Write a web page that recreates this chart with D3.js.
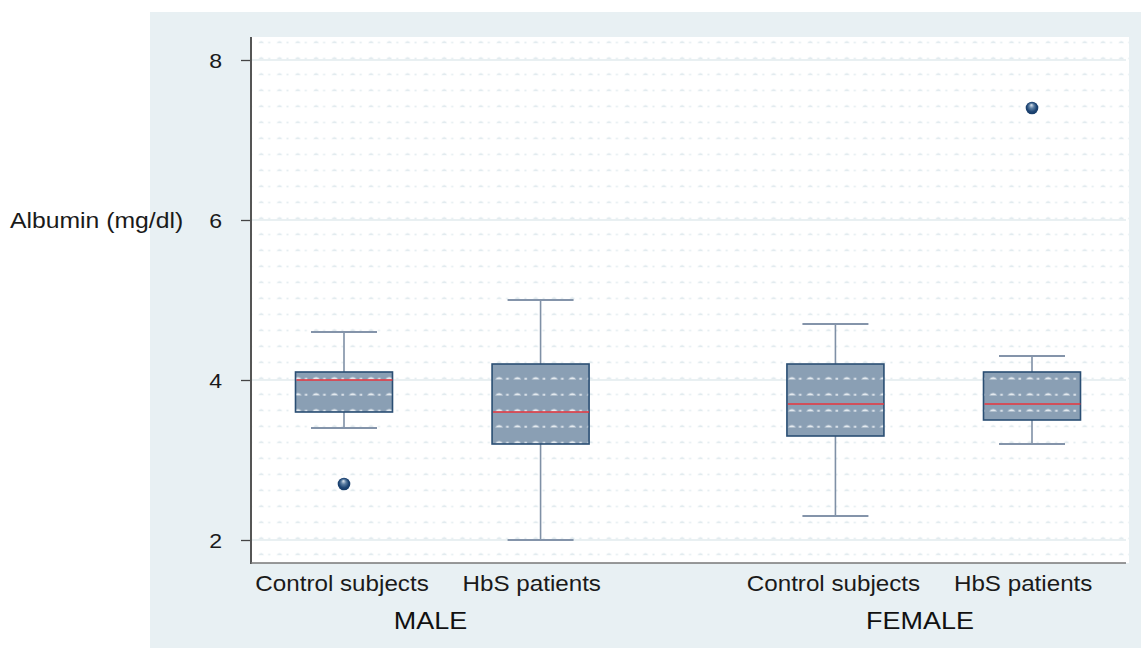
<!DOCTYPE html>
<html>
<head>
<meta charset="utf-8">
<script src="https://cdn.jsdelivr.net/npm/d3@7"></script>
<style>
  html, body { margin: 0; padding: 0; background: #ffffff; }
  svg { display: block; font-family: "Liberation Sans", Arial, sans-serif; }
</style>
</head>
<body>
<svg id="chart" width="1141" height="648"></svg>
<script>
// Albumin box plots by sex and group
const groups = ["MALE", "FEMALE"];
const categories = ["Control subjects", "HbS patients", "Control subjects", "HbS patients"];
const categoryGroup = ["MALE", "MALE", "FEMALE", "FEMALE"];
const slots = [0, 1, 2.5, 3.5];            // horizontal slot of each box
const labelSlots = [-0.01, 0.955, 2.49, 3.455];
const groupSlots = [0.44, 2.93];
const whiskerLow = [3.4, 2.0, 2.3, 3.2];
const q1 = [3.6, 3.2, 3.3, 3.5];
const median = [4.0, 3.6, 3.7, 3.7];
const q3 = [4.1, 4.2, 4.2, 4.1];
const whiskerHigh = [4.6, 5.0, 4.7, 4.3];
const outliers = [[2.7], [], [], [7.4]];
const yTicks = [2, 4, 6, 8];
const yLabel = "Albumin (mg/dl)";

const svg = d3.select("#chart");
const W = 1141, H = 648;
const SX = 1.1;   // horizontal stretch of the lettering

// panel and plot region
const panel = { x: 150, y: 12, w: W - 150, h: H - 12 };
const plot = { left: 251, right: 1129, top: 37, bottom: 563 };

const y = d3.scaleLinear().domain([2, 8]).range([540, 60]);
const x = d3.scaleLinear().domain([0, 3.5]).range([344, 1032]);
const boxW = 97, capW = 66;

const defs = svg.append("defs");
function texture(id, color, big) {
  const p = defs.append("pattern")
    .attr("id", id)
    .attr("patternUnits", "userSpaceOnUse")
    .attr("x", 0).attr("y", 40.7)
    .attr("width", 18.3).attr("height", 16);
  if (big) {
    p.append("path").attr("d", "M1,2.6 Q5,-1.4 9,2.6 Z").attr("fill", color);
    p.append("rect").attr("x", 12).attr("y", 1.3).attr("width", 2.6).attr("height", 1.5).attr("fill", color);
  } else {
    p.append("path").attr("d", "M2,2.2 Q5,-1.2 8,2.2 Z").attr("fill", color);
    p.append("rect").attr("x", 12).attr("y", 1.2).attr("width", 2).attr("height", 1.2).attr("fill", color);
  }
  return p;
}
texture("bgTex", "#d9e5ea", false);
texture("boxTex", "#f4f7fa", true);

const grad = defs.append("radialGradient").attr("id", "dotGrad")
  .attr("cx", "50%").attr("cy", "50%").attr("r", "55%")
  .attr("fx", "45%").attr("fy", "25%");
grad.append("stop").attr("offset", "0%").attr("stop-color", "#dfe8f0");
grad.append("stop").attr("offset", "35%").attr("stop-color", "#5d7fa3");
grad.append("stop").attr("offset", "70%").attr("stop-color", "#1d4473");
grad.append("stop").attr("offset", "100%").attr("stop-color", "#163a66");

svg.append("rect")
  .attr("x", panel.x).attr("y", panel.y)
  .attr("width", panel.w).attr("height", panel.h)
  .attr("fill", "#e8f0f3");

svg.append("rect")
  .attr("x", plot.left).attr("y", plot.top)
  .attr("width", plot.right - plot.left).attr("height", plot.bottom - plot.top)
  .attr("fill", "#ffffff");
svg.append("rect")
  .attr("x", plot.left).attr("y", plot.top)
  .attr("width", plot.right - plot.left).attr("height", plot.bottom - plot.top)
  .attr("fill", "url(#bgTex)");

// major grid lines
svg.append("g").selectAll("line").data(yTicks).join("line")
  .attr("x1", plot.left).attr("x2", plot.right - 3)
  .attr("y1", d => y(d)).attr("y2", d => y(d))
  .attr("stroke", "#e2ebee").attr("stroke-width", 1.3);

// y axis
const yAxis = d3.axisLeft(y).tickValues(yTicks).tickSize(10).tickPadding(18).tickFormat(d3.format("d"));
const gy = svg.append("g").attr("transform", `translate(${plot.left},0)`).call(yAxis);
gy.select(".domain").remove();
gy.selectAll(".tick line").attr("stroke", "#444").attr("stroke-width", 1.3);
gy.selectAll(".tick text").attr("font-size", 21).attr("fill", "#1a1a1a")
  .attr("font-family", "Liberation Sans, Arial, sans-serif")
  .attr("x", null).attr("dy", null)
  .attr("transform", `translate(-29,7.5) scale(${SX},1)`);
svg.append("line")
  .attr("x1", plot.left).attr("x2", plot.left)
  .attr("y1", plot.top).attr("y2", plot.bottom + 1)
  .attr("stroke", "#555").attr("stroke-width", 2);
svg.append("line")
  .attr("x1", plot.left).attr("x2", plot.right - 3)
  .attr("y1", plot.bottom).attr("y2", plot.bottom)
  .attr("stroke", "#777").attr("stroke-width", 1.5);

svg.append("text")
  .attr("transform", `translate(10,${y(6) + 8}) scale(${SX},1)`)
  .attr("font-size", 22.5).attr("fill", "#1a1a1a")
  .text(yLabel);

// boxes
const boxes = svg.append("g");
categories.forEach((c, i) => {
  const cx = x(slots[i]);
  const g = boxes.append("g");
  g.append("line")
    .attr("x1", cx).attr("x2", cx)
    .attr("y1", y(whiskerHigh[i])).attr("y2", y(q3[i]))
    .attr("stroke", "#7f90a6").attr("stroke-width", 1.6);
  g.append("line")
    .attr("x1", cx).attr("x2", cx)
    .attr("y1", y(q1[i])).attr("y2", y(whiskerLow[i]))
    .attr("stroke", "#7f90a6").attr("stroke-width", 1.6);
  [whiskerHigh[i], whiskerLow[i]].forEach(v => {
    g.append("line")
      .attr("x1", cx - capW / 2).attr("x2", cx + capW / 2)
      .attr("y1", y(v)).attr("y2", y(v))
      .attr("stroke", "#8494aa").attr("stroke-width", 1.8);
  });
  g.append("rect")
    .attr("x", cx - boxW / 2).attr("y", y(q3[i]))
    .attr("width", boxW).attr("height", y(q1[i]) - y(q3[i]))
    .attr("fill", "#8a9fb4");
  g.append("rect")
    .attr("x", cx - boxW / 2).attr("y", y(q3[i]))
    .attr("width", boxW).attr("height", y(q1[i]) - y(q3[i]))
    .attr("fill", "url(#boxTex)");
  g.append("rect")
    .attr("x", cx - boxW / 2).attr("y", y(q3[i]))
    .attr("width", boxW).attr("height", y(q1[i]) - y(q3[i]))
    .attr("fill", "none").attr("stroke", "#2a4e73").attr("stroke-width", 1.6);
  g.append("line")
    .attr("x1", cx - boxW / 2 + 1).attr("x2", cx + boxW / 2)
    .attr("y1", y(median[i])).attr("y2", y(median[i]))
    .attr("stroke", "#e8343c").attr("stroke-width", 1.5);
  outliers[i].forEach(v => {
    g.append("circle")
      .attr("cx", cx).attr("cy", y(v)).attr("r", 6.3)
      .attr("fill", "url(#dotGrad)");
  });
});

// category labels
svg.append("g").selectAll("text").data(categories).join("text")
  .attr("transform", (d, i) => `translate(${x(labelSlots[i])},591) scale(${SX},1)`)
  .attr("text-anchor", "middle")
  .attr("font-size", 22).attr("fill", "#1a1a1a")
  .text(d => d);

// group labels
svg.append("g").selectAll("text").data(groups).join("text")
  .attr("transform", (d, i) => `translate(${x(groupSlots[i])},629) scale(${SX},1)`)
  .attr("text-anchor", "middle")
  .attr("font-size", 24.5).attr("fill", "#111")
  .text(d => d);
</script>
</body>
</html>
